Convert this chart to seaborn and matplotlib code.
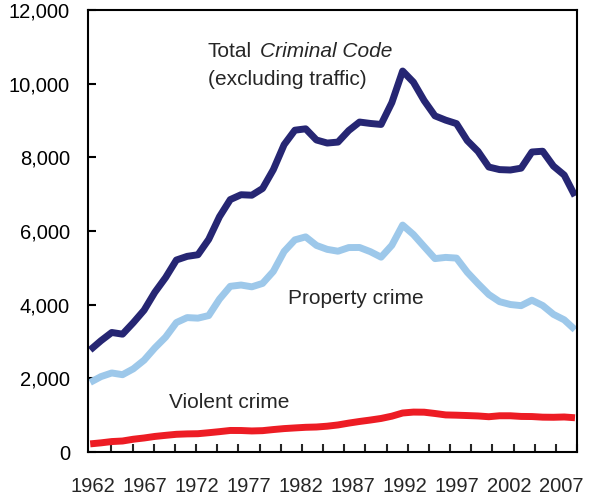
import numpy as np
import pandas as pd
import seaborn as sns
import matplotlib.pyplot as plt
import matplotlib.transforms as mtransforms

years = list(range(1962, 2008))

total_crime = [2771, 3022, 3245, 3199, 3511, 3850, 4336, 4737, 5212, 5311,
               5355, 5773, 6388, 6852, 6984, 6971, 7154, 7666, 8343, 8736,
               8773, 8470, 8387, 8413, 8727, 8957, 8919, 8892, 9485, 10342,
               10040, 9538, 9125, 9008, 8914, 8453, 8160, 7736, 7666, 7655,
               7705, 8144, 8165, 7761, 7518, 6950]

property_crime = [1891, 2047, 2146, 2099, 2258, 2493, 2826, 3120, 3515, 3649,
                  3634, 3704, 4151, 4498, 4533, 4484, 4577, 4903, 5444, 5759,
                  5840, 5608, 5501, 5451, 5550, 5552, 5439, 5289, 5612, 6160,
                  5904, 5575, 5250, 5283, 5264, 4880, 4569, 4276, 4081, 4004,
                  3973, 4121, 3976, 3737, 3588, 3320]

violent_crime = [221, 249, 284, 299, 347, 381, 423, 453, 481, 492,
                 497, 524, 553, 585, 584, 572, 580, 610, 636, 654,
                 671, 679, 701, 735, 785, 829, 868, 911, 973, 1059,
                 1084, 1081, 1046, 1007, 1000, 990, 979, 958, 984, 984,
                 966, 963, 946, 943, 951, 930]

series_names = ['Total', 'Property', 'Violent']
series_colors = {'Total': '#262673', 'Property': '#9DC8EA', 'Violent': '#ED1C24'}

df = pd.DataFrame({
    'Year': years * 3,
    'Rate': total_crime + property_crime + violent_crime,
    'Series': [s for s in series_names for _ in years],
})

sns.set_style('ticks')
plt.rcParams['font.family'] = ['Liberation Sans', 'DejaVu Sans']

fig = plt.figure(figsize=(5.95, 4.97), dpi=100)
ax = fig.add_axes([0.148, 0.0905, 0.822, 0.8895])

sns.lineplot(data=df, x='Year', y='Rate', hue='Series', palette=series_colors,
             linewidth=5, legend=False, ax=ax, solid_capstyle='butt')

ax.set_xlim(1961.8, 2007.2)
ax.set_ylim(0, 12000)
ax.set_yticks(range(0, 12001, 2000))
ax.set_yticklabels([f'{v:,}' for v in range(0, 12001, 2000)])
# small tick marks along the x axis, labels every five years
ax.set_xticks(np.linspace(1962, 2007.2, 24), minor=True)
ax.set_xticks(list(range(1962, 2008, 5)))
ax.set_xticklabels([str(y) for y in range(1962, 2008, 5)])
ax.tick_params(axis='y', direction='in', length=6, width=1.5, labelsize=14.5, pad=13, colors='black')
ax.tick_params(axis='x', which='both', direction='in', length=6, width=1.5, labelsize=14.5, pad=18)
ax.tick_params(axis='x', which='major', length=0)
ax.set_xlabel('')
ax.set_ylabel('')
for sp in ax.spines.values():
    sp.set_visible(True)
    sp.set_linewidth(1.5)
    sp.set_color('black')

# squeeze year labels a little so the last one stays inside the figure
for i, lab in enumerate(ax.get_xticklabels()):
    dx = (3 - i * 17 / 9) / 100
    lab.set_transform(lab.get_transform() + mtransforms.ScaledTranslation(dx, 0, fig.dpi_scale_trans))

ax.text(1972.9, 10870, 'Total', fontsize=15, ha='left', va='center')
ax.annotate('Criminal Code', xy=(1972.9, 10870), xytext=(38, 0), textcoords='offset points',
            fontsize=15, style='italic', ha='left', va='center')
ax.text(1972.9, 10120, '(excluding traffic)', fontsize=15, ha='left', va='center')
ax.text(1980.4, 4170, 'Property crime', fontsize=15, ha='left', va='center')
ax.text(1969.3, 1350, 'Violent crime', fontsize=15, ha='left', va='center')

fig.savefig('out.png', dpi=100)
